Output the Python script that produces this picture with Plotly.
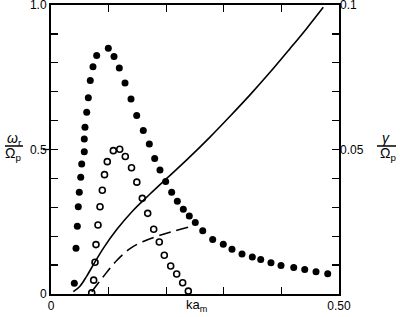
import plotly.graph_objects as go

# Filled dots (left axis, omega_r / Omega_p)
filled_x = [0.0405, 0.0434, 0.0457, 0.0474, 0.0491, 0.0516, 0.0533, 0.0578, 0.0578, 0.0590,
            0.0620, 0.0648, 0.0682, 0.0729, 0.0793, 0.0995, 0.1094, 0.1186, 0.1285, 0.1389,
            0.1488, 0.1602, 0.1707, 0.1800, 0.1892, 0.1991, 0.2095, 0.2193, 0.2297, 0.2401,
            0.2505, 0.2634, 0.2807, 0.2991, 0.3142, 0.3316, 0.3495, 0.3641, 0.3819, 0.3993,
            0.4214, 0.4405, 0.4601, 0.4804]
filled_y = [0.037, 0.158, 0.234, 0.302, 0.352, 0.404, 0.450, 0.492, 0.536, 0.577,
            0.629, 0.679, 0.739, 0.786, 0.825, 0.850, 0.822, 0.782, 0.730, 0.675,
            0.618, 0.566, 0.519, 0.469, 0.429, 0.389, 0.352, 0.321, 0.293, 0.270,
            0.247, 0.219, 0.189, 0.172, 0.155, 0.138, 0.128, 0.119, 0.108, 0.099,
            0.092, 0.085, 0.077, 0.070]

# Open dots (right axis, gamma / Omega_p)
open_x = [0.0707, 0.0741, 0.0764, 0.0781, 0.0816, 0.0851, 0.0891, 0.0929, 0.0977, 0.1082,
          0.1193, 0.1290, 0.1398, 0.1490, 0.1585, 0.1679, 0.1783, 0.1880, 0.1967, 0.2078,
          0.2182, 0.2286, 0.2384]
open_y = [0.0004, 0.0048, 0.0110, 0.0171, 0.0239, 0.0302, 0.0359, 0.0413, 0.0458, 0.0496,
          0.0501, 0.0476, 0.0437, 0.0387, 0.0331, 0.0279, 0.0224, 0.0180, 0.0134, 0.0097,
          0.0069, 0.0039, 0.0010]

# Solid curve (left axis)
solid_x = [0.0387, 0.0503, 0.0620, 0.0764, 0.0908, 0.1141, 0.1429, 0.1719, 0.2009, 0.2356,
           0.2760, 0.3108, 0.3455, 0.3802, 0.4149, 0.4439, 0.4727]
solid_y = [0.008, 0.027, 0.062, 0.111, 0.158, 0.223, 0.290, 0.346, 0.400, 0.464,
           0.543, 0.615, 0.689, 0.767, 0.849, 0.919, 0.992]

# Dashed curve (right axis)
dash_x = [0.0707, 0.0908, 0.1141, 0.1372, 0.1602, 0.1892, 0.2123, 0.2384]
dash_y = [0.0008, 0.0060, 0.0116, 0.0157, 0.0182, 0.0203, 0.0217, 0.0231]

left_ticks = [0, 0.5, 1.0]
left_labels = ["0", "0.5", "1.0"]
right_ticks = [0.05, 0.1]
right_labels = ["0.05", "0.1"]
x_ticks = [0, 0.5]
x_labels = ["0", "0.50"]

FONT = "Liberation Sans, Arial, sans-serif"
L, R, T, B, W, H = 51, 61, 5, 23, 400, 317
pw, ph = W - L - R, H - T - B


def px(x):
    return (x - L) / pw


def py(y):
    return (H - B - y) / ph


tick_style = dict(ticks="inside", ticklen=7, tickwidth=1.3, tickcolor="black")

fig = go.Figure()
fig.add_trace(go.Scatter(x=solid_x, y=solid_y, mode="lines",
                         line=dict(color="black", width=1.6, shape="spline", smoothing=1.0),
                         showlegend=False))
fig.add_trace(go.Scatter(x=dash_x, y=dash_y, mode="lines", yaxis="y2",
                         line=dict(color="black", width=1.6, dash="12px,6px", shape="spline", smoothing=1.0),
                         showlegend=False))
fig.add_trace(go.Scatter(x=filled_x, y=filled_y, mode="markers",
                         marker=dict(symbol="circle", size=7, color="black"), showlegend=False))
fig.add_trace(go.Scatter(x=open_x, y=open_y, mode="markers", yaxis="y2",
                         marker=dict(symbol="circle-open", size=6, color="black", line=dict(width=1.6)),
                         showlegend=False))

fig.update_layout(
    width=W, height=H,
    margin=dict(l=L, r=R, t=T, b=B, autoexpand=False),
    plot_bgcolor="white", paper_bgcolor="white",
    font=dict(family=FONT, size=12, color="black"),
    hovermode=False,
    xaxis=dict(range=[0, 0.5], tickvals=x_ticks, ticktext=x_labels, **tick_style,
               minor=dict(dtick=0.1, tick0=0, **tick_style), ticklabeloverflow="allow",
               showline=True, linecolor="black", linewidth=2, automargin=False,
               mirror="ticks", showgrid=False, zeroline=False, fixedrange=True),
    yaxis=dict(range=[0, 1.0], tickvals=left_ticks, ticktext=left_labels, **tick_style,
               minor=dict(dtick=0.1, tick0=0, **tick_style), ticklabeloverflow="allow",
               showline=True, linecolor="black", linewidth=2, automargin=False,
               mirror=True, showgrid=False, zeroline=False, fixedrange=True),
    yaxis2=dict(range=[0, 0.1], tickvals=right_ticks, ticktext=right_labels, **tick_style,
                minor=dict(dtick=0.01, tick0=0, **tick_style), ticklabeloverflow="allow",
                overlaying="y", side="right", showline=False, automargin=False,
                showgrid=False, zeroline=False, fixedrange=True),
    annotations=[
        dict(text="ka<sub>m</sub>", x=px(196), y=py(305), xref="paper", yref="paper",
             xanchor="center", yanchor="middle", showarrow=False, font=dict(size=13, family=FONT)),
        dict(text="<i>ω</i><sub>r</sub>", x=px(14), y=py(139), xref="paper", yref="paper",
             xanchor="center", yanchor="middle", showarrow=False, font=dict(size=14, family=FONT)),
        dict(text="Ω<sub>p</sub>", x=px(13), y=py(154), xref="paper", yref="paper",
             xanchor="center", yanchor="middle", showarrow=False, font=dict(size=14, family=FONT)),
        dict(text="<i>γ</i>", x=px(386), y=py(138), xref="paper", yref="paper",
             xanchor="center", yanchor="middle", showarrow=False, font=dict(size=14, family=FONT)),
        dict(text="Ω<sub>p</sub>", x=px(388), y=py(154), xref="paper", yref="paper",
             xanchor="center", yanchor="middle", showarrow=False, font=dict(size=14, family=FONT)),
    ],
)

fig.add_shape(type="line", xref="paper", yref="paper", x0=px(5), x1=px(23),
              y0=py(146), y1=py(146), line=dict(color="black", width=1.5))
fig.add_shape(type="line", xref="paper", yref="paper", x0=px(377), x1=px(396),
              y0=py(146), y1=py(146), line=dict(color="black", width=1.5))
fig.add_shape(type="line", xref="paper", yref="y", x0=px(43), x1=0, y0=0.5, y1=0.5,
              line=dict(color="black", width=1.3))

fig.write_html("out.html", config={"displayModeBar": False, "staticPlot": True})

# remove the default page margin so the figure sits at the window's top-left corner
with open("out.html", encoding="utf-8") as f:
    html = f.read()
html = html.replace("<head>", "<head><style>html,body{margin:0;padding:0;overflow:hidden}</style>", 1)
with open("out.html", "w", encoding="utf-8") as f:
    f.write(html)
